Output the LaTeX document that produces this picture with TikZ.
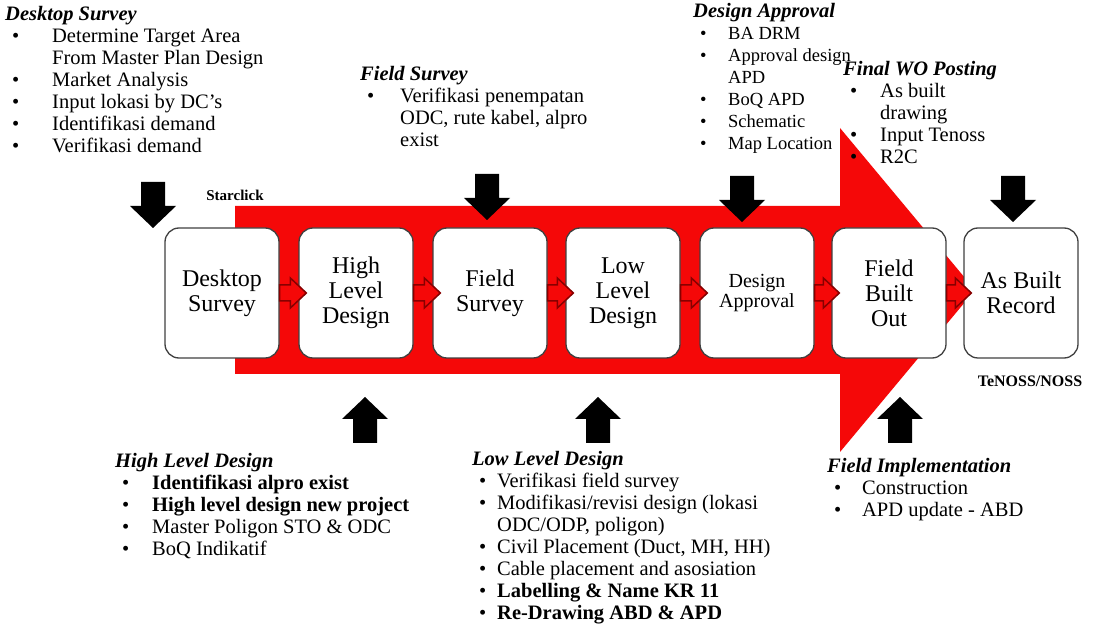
\documentclass[tikz,border=0pt]{standalone}
\usepackage{fontspec}
\setmainfont{Liberation Serif}
\definecolor{arrowred}{RGB}{245,8,8}
\definecolor{linkred}{RGB}{135,0,0}
\newlength{\bulind}
\newcommand{\bul}{\makebox[\bulind][l]{\hspace{7pt}\textbullet}}
\newcommand{\cont}{\hspace*{\bulind}}
\begin{document}
\begin{tikzpicture}[x=1pt, y=1pt,
    stage/.style={draw=black!75, line width=1.3pt, fill=white, rounded corners=14pt,
      minimum width=114pt, minimum height=130pt, align=center,
      font=\fontsize{24}{25}\selectfont},
    link/.style={draw=linkred, line width=1.5pt, fill=arrowred},
    notes/.style={anchor=north west, inner sep=0pt, align=left,
      font=\fontsize{20.5}{22}\selectfont,
      execute at begin node={\setlength{\bulind}{#1}}},
    tag/.style={inner sep=0pt, font=\fontsize{15}{16}\selectfont\bfseries}]
    \useasboundingbox (0,0) rectangle (1096,630);

    % big process arrow
    \fill[arrowred] (235,256) -- (840,256) -- (840,178) -- (975,340) -- (840,502) -- (840,424) -- (235,424) -- cycle;

    % stages
    \node [stage] (ds) at (222,337) {Desktop\\Survey};
    \node [stage] (hld) at (356,337) {High\\Level\\Design};
    \node [stage] (fs) at (490,337) {Field\\Survey};
    \node [stage] (lld) at (623,337) {Low\\Level\\Design};
    \node [stage, font=\fontsize{20}{20}\selectfont] (da) at (757,337) {Design\\Approval};
    \node [stage] (fbo) at (889,337) {Field\\Built\\Out};
    \node [stage] (abr) at (1021,337) {As Built\\Record};

    \foreach \a/\b in {ds/hld, hld/fs, fs/lld, lld/da, da/fbo, fbo/abr}
      \draw[link] ([yshift=8pt]\a.east) -- ([xshift=-8pt,yshift=8pt]\b.west)
        -- ([xshift=-8pt,yshift=15pt]\b.west) -- ([xshift=8pt]\b.west)
        -- ([xshift=-8pt,yshift=-15pt]\b.west) -- ([xshift=-8pt,yshift=-8pt]\b.west)
        -- ([yshift=-8pt]\a.east) -- cycle;

    % black arrows in and out
    \foreach \x/\y in {153/402, 487/410, 742/408, 1013/408}
      \fill (\x,\y) -- ++(-23,22) -- ++(11,0) -- ++(0,24) -- ++(24,0) -- ++(0,-24) -- ++(11,0) -- cycle;
    \foreach \x/\y in {365/233, 598/233, 900/233}
      \fill (\x,\y) -- ++(-23,-22) -- ++(11,0) -- ++(0,-24) -- ++(24,0) -- ++(0,24) -- ++(11,0) -- cycle;

    % notes
    \node [notes=47pt] (dsnote) at (5,624) {{\bfseries\itshape Desktop Survey}\\
      \bul Determine Target Area\\ \cont From Master Plan Design\\ \bul Market Analysis\\
      \bul Input lokasi by DC's\\ \bul Identifikasi demand\\ \bul Verifikasi demand};
    \node [notes=40pt] (fsnote) at (360,564) {{\bfseries\itshape Field Survey}\\
      \bul Verifikasi penempatan\\ \cont ODC, rute kabel, alpro\\ \cont exist};
    \node [notes=35pt, font=\fontsize{18.5}{22}\selectfont] (danote) at (693,627) {{\fontsize{20.5}{22}\selectfont\bfseries\itshape Design Approval}\\
      \bul BA DRM\\ \bul Approval design\\ \cont APD\\ \bul BoQ APD\\ \bul Schematic\\ \bul Map Location};
    \node [notes=37pt] (wonote) at (843,569) {{\bfseries\itshape Final WO Posting}\\
      \bul As built\\ \cont drawing\\ \bul Input Tenoss\\ \bul R2C};
    \node [notes=37pt] (hldnote) at (115,177) {{\bfseries\itshape High Level Design}\\
      \bul \textbf{Identifikasi alpro exist}\\ \bul \textbf{High level design new project}\\
      \bul Master Poligon STO \& ODC\\ \bul BoQ Indikatif};
    \node [notes=25pt] (lldnote) at (472,179) {{\bfseries\itshape Low Level Design}\\
      \bul Verifikasi field survey\\ \bul Modifikasi/revisi design (lokasi\\ \cont ODC/ODP, poligon)\\
      \bul Civil Placement (Duct, MH, HH)\\ \bul Cable placement and asosiation\\
      \bul \textbf{Labelling \& Name KR 11}\\ \bul \textbf{Re-Drawing ABD \& APD}};
    \node [notes=35pt] (finote) at (827,172) {{\bfseries\itshape Field Implementation}\\
      \bul Construction\\ \bul APD update - ABD};

    \node [tag] (starclick) at (235,435) {Starclick};
    \node [tag, font=\fontsize{16}{17}\selectfont\bfseries] (tenoss) at (1030,249) {TeNOSS/NOSS};
\end{tikzpicture}
\end{document}
